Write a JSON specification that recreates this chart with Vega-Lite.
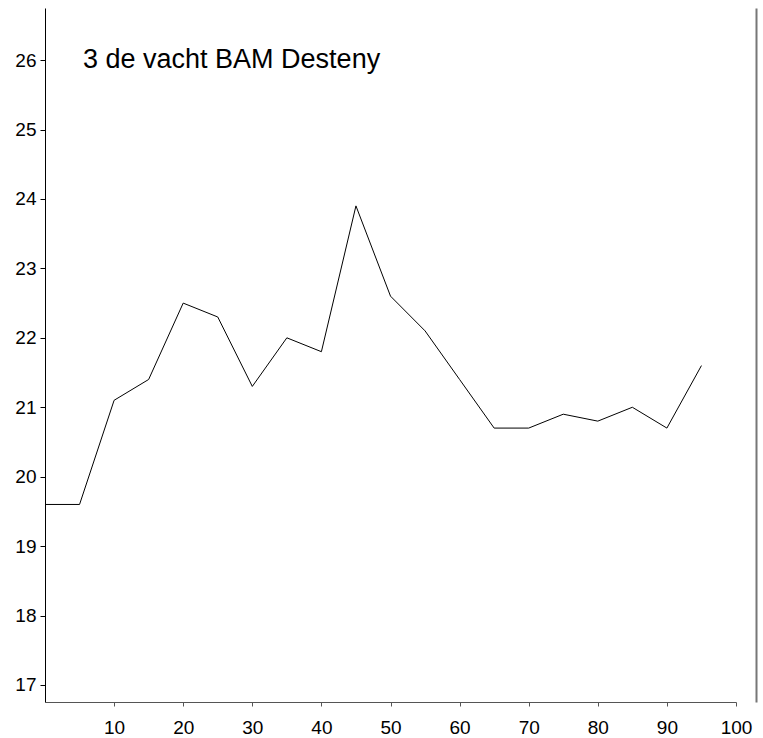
{
  "$schema": "https://vega.github.io/schema/vega-lite/v6.json",
  "autosize": "none",
  "width": 691,
  "height": 694,
  "padding": {"left": 45, "top": 8, "right": 27, "bottom": 36},
  "background": "white",
  "config": {
    "view": {"stroke": null},
    "font": "Liberation Sans",
    "axis": {"grid": false, "labelFont": "Liberation Sans", "labelColor": "black", "title": null}
  },
  "datasets": {
    "series": [
      {"x": 0, "y": 19.6}, {"x": 5, "y": 19.6}, {"x": 10, "y": 21.1}, {"x": 15, "y": 21.4},
      {"x": 20, "y": 22.5}, {"x": 25, "y": 22.3}, {"x": 30, "y": 21.3}, {"x": 35, "y": 22.0},
      {"x": 40, "y": 21.8}, {"x": 45, "y": 23.9}, {"x": 50, "y": 22.6}, {"x": 55, "y": 22.1},
      {"x": 60, "y": 21.4}, {"x": 65, "y": 20.7}, {"x": 70, "y": 20.7}, {"x": 75, "y": 20.9},
      {"x": 80, "y": 20.8}, {"x": 85, "y": 21.0}, {"x": 90, "y": 20.7}, {"x": 95, "y": 21.6}
    ],
    "label": [{"x": 5.5, "y": 26, "text": "3 de vacht BAM Desteny"}]
  },
  "layer": [
    {
      "data": {"name": "series"},
      "mark": {"type": "line", "color": "black", "strokeWidth": 1},
      "encoding": {
        "x": {
          "field": "x", "type": "quantitative",
          "scale": {"domain": [0, 100], "nice": false, "zero": false},
          "axis": {
            "values": [10, 20, 30, 40, 50, 60, 70, 80, 90, 100],
            "domainColor": "#555", "tickColor": "#555", "tickSize": 4,
            "labelFontSize": 19, "labelPadding": 12, "labelFlush": false
          }
        },
        "y": {
          "field": "y", "type": "quantitative",
          "scale": {"domain": [16.755, 26.75], "nice": false, "zero": false},
          "axis": {
            "values": [17, 18, 19, 20, 21, 22, 23, 24, 25, 26],
            "domainColor": "black", "tickColor": "black", "tickSize": 5,
            "labelFontSize": 19, "labelPadding": 4
          }
        }
      }
    },
    {
      "data": {"name": "label"},
      "mark": {"type": "text", "align": "left", "baseline": "middle", "fontSize": 27, "font": "Liberation Sans", "color": "black"},
      "encoding": {
        "x": {"field": "x", "type": "quantitative"},
        "y": {"field": "y", "type": "quantitative", "axis": {"orient": "right", "offset": 20, "domainColor": "#777", "domainWidth": 2, "ticks": false, "labels": false, "title": null}},
        "text": {"field": "text"}
      }
    }
  ],
  "resolve": {"axis": {"y": "independent"}}
}
